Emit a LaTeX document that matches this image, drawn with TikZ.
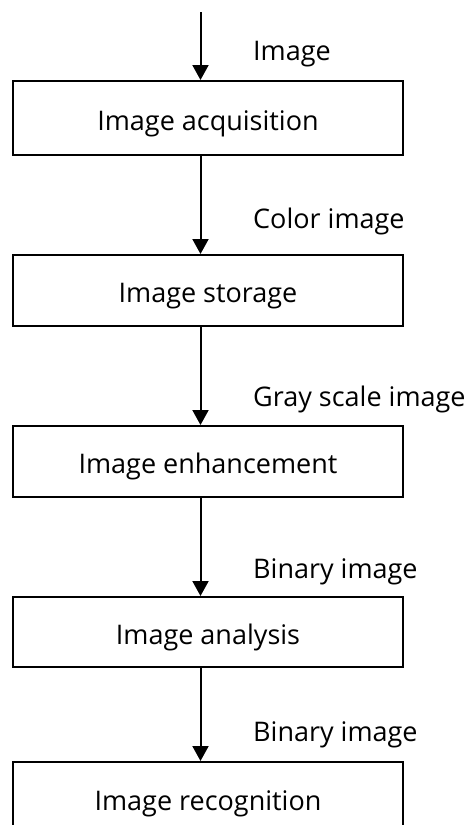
\documentclass[tikz,border=0pt]{standalone}
\usepackage{fontspec}
\setmainfont{Open Sans}
\usetikzlibrary{arrows.meta}
\begin{document}
\begin{tikzpicture}[x=1pt,y=-1pt,
  stagebox/.style={draw,line width=2pt,minimum width=390pt,anchor=north,inner sep=0pt,
    text height=24pt,text depth=0pt,font=\fontsize{27}{32}\selectfont},
  flowarrow/.style={line width=2pt,-{Triangle[width=16pt,length=15pt]}},
  datalabel/.style={anchor=base west,inner sep=0pt,font=\fontsize{27}{32}\selectfont}]
\useasboundingbox (0,0) rectangle (470,825);
\node[stagebox,minimum height=74pt] (acq) at (208,80) {Image acquisition};
\node[stagebox,minimum height=71pt] (sto) at (208,254) {Image storage};
\node[stagebox,minimum height=71pt] (enh) at (208,425) {Image enhancement};
\node[stagebox,minimum height=70pt] (ana) at (208,596) {Image analysis};
\node[stagebox,minimum height=72pt] (rec) at (208,761) {Image recognition};
\coordinate (src) at (200.5,12);
\draw[flowarrow] (src) -- (src |- acq.north);
\draw[flowarrow] (acq.south -| src) -- (sto.north -| src);
\draw[flowarrow] (sto.south -| src) -- (enh.north -| src);
\draw[flowarrow] (enh.south -| src) -- (ana.north -| src);
\draw[flowarrow] (ana.south -| src) -- (rec.north -| src);
\node[datalabel] (l1) at (253,60) {Image};
\node[datalabel] (l2) at (253,228) {Color image};
\node[datalabel] (l3) at (253,406.5) {Gray scale image};
\node[datalabel] (l4) at (253,578) {Binary image};
\node[datalabel] (l5) at (253,741.5) {Binary image};
\end{tikzpicture}
\end{document}
